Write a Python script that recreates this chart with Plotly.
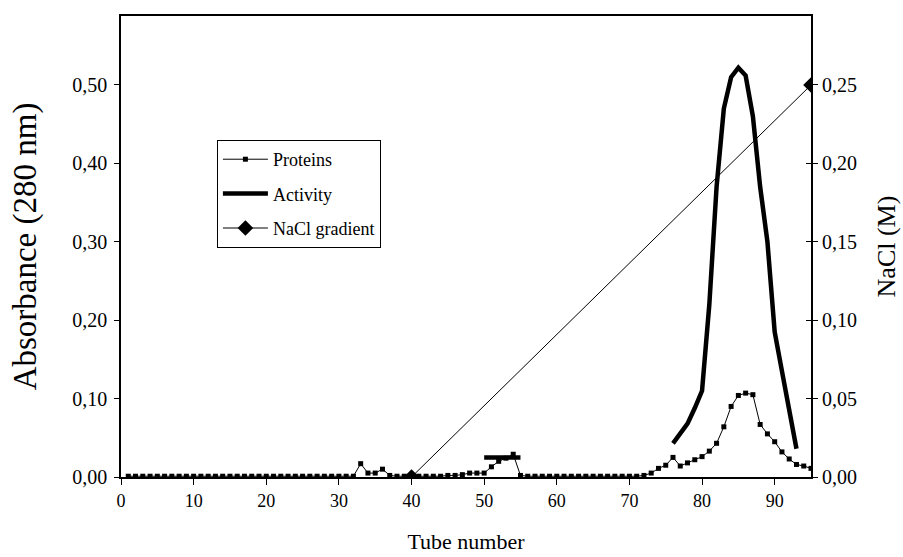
import plotly.graph_objects as go

# ---- data ----
tubes = list(range(1, 96))
proteins = [
    0.001, 0.001, 0.001, 0.001, 0.001, 0.001, 0.001, 0.001, 0.001, 0.001,
    0.001, 0.001, 0.001, 0.001, 0.001, 0.001, 0.001, 0.001, 0.001, 0.001,
    0.001, 0.001, 0.001, 0.001, 0.001, 0.001, 0.001, 0.001, 0.001, 0.001,
    0.001, 0.001, 0.017, 0.005, 0.005, 0.010, 0.002, 0.001, 0.001, 0.001,
    0.001, 0.001, 0.001, 0.001, 0.002, 0.002, 0.003, 0.005, 0.005, 0.005,
    0.013, 0.020, 0.024, 0.029, 0.002, 0.001, 0.001, 0.001, 0.001, 0.001,
    0.001, 0.001, 0.001, 0.001, 0.001, 0.001, 0.001, 0.001, 0.001, 0.001,
    0.001, 0.002, 0.005, 0.011, 0.015, 0.025, 0.014, 0.018, 0.022, 0.026,
    0.033, 0.043, 0.064, 0.090, 0.104, 0.107, 0.105, 0.067, 0.055, 0.045,
    0.032, 0.023, 0.016, 0.014, 0.011,
]

activity_tubes = [50, 51, 52, 53, 54, 55, None,
                  76, 77, 78, 79, 80, 81, 82, 83, 84, 85, 86, 87, 88, 89, 90, 91, 92, 93]
activity = [0.025, 0.025, 0.025, 0.026, 0.026, 0.025, None,
            0.043, 0.055, 0.068, 0.088, 0.110, 0.22, 0.37, 0.47, 0.51, 0.522, 0.512,
            0.46, 0.37, 0.30, 0.185, 0.135, 0.085, 0.036]

nacl_tubes = [40, 95]
nacl = [0.0, 0.25]

x_ticks = [0, 10, 20, 30, 40, 50, 60, 70, 80, 90]
y_ticks = [0.0, 0.1, 0.2, 0.3, 0.4, 0.5]
y2_ticks = [0.0, 0.05, 0.10, 0.15, 0.20, 0.25]

FONT = "Liberation Serif"

fig = go.Figure()
fig.add_trace(go.Scatter(
    x=tubes, y=proteins, name="Proteins", mode="lines+markers",
    line=dict(color="black", width=1),
    marker=dict(symbol="square", size=5, color="black"),
    legendgroup="a",
))
fig.add_trace(go.Scatter(
    x=activity_tubes, y=activity, name="Activity", mode="lines",
    line=dict(color="black", width=4.5), connectgaps=False,
    legendgroup="b",
))
fig.add_trace(go.Scatter(
    x=nacl_tubes, y=nacl, name="NaCl gradient", mode="lines+markers",
    line=dict(color="black", width=1),
    marker=dict(symbol="diamond", size=12, color="black"),
    yaxis="y2", legendgroup="c",
))
# invisible trace to carry the inner-tick overlay axis
fig.add_trace(go.Scatter(x=[None], y=[None], yaxis="y3", showlegend=False, hoverinfo="skip"))

fig.update_layout(
    width=903, height=557,
    margin=dict(l=121, r=92, t=16, b=80, autoexpand=False),
    paper_bgcolor="white", plot_bgcolor="white",
    separators=", ",
    font=dict(family=FONT, size=18, color="black"),
    showlegend=True,
    legend=dict(
        x=0.139, y=0.731, xanchor="left", yanchor="top",
        bgcolor="white", bordercolor="black", borderwidth=1,
        font=dict(family=FONT, size=18, color="black"),
        traceorder="grouped", tracegroupgap=8, itemwidth=45,
    ),
    xaxis=dict(
        range=[0, 95], tickvals=x_ticks, showgrid=False, zeroline=False,
        showline=True, linecolor="black", linewidth=2, mirror=True,
        ticks="outside", ticklen=6, tickcolor="black", automargin=False,
        tickfont=dict(family=FONT, size=18),
        title=dict(text="Tube number", font=dict(family=FONT, size=22), standoff=24),
    ),
    yaxis=dict(
        range=[0, 0.588], tickvals=y_ticks, tickformat=".2f", showgrid=False, zeroline=False,
        showline=True, linecolor="black", linewidth=1.5, automargin=False,
        ticks="outside", ticklen=5, tickcolor="black", ticklabelstandoff=3,
        tickfont=dict(family=FONT, size=20),
        title=dict(text="Absorbance (280 nm)", font=dict(family=FONT, size=33), standoff=26),
    ),
    yaxis2=dict(
        range=[0, 0.294], tickvals=y2_ticks, tickformat=".2f", overlaying="y", side="right",
        showgrid=False, zeroline=False, automargin=False,
        showline=True, linecolor="black", linewidth=2,
        ticks="outside", ticklen=5, tickcolor="black",
        tickfont=dict(family=FONT, size=20),
        title=dict(text="NaCl (M)", font=dict(family=FONT, size=26), standoff=21),
    ),
    yaxis3=dict(
        range=[0, 0.294], tickvals=y2_ticks, overlaying="y", side="right",
        showgrid=False, zeroline=False, showline=False, showticklabels=False,
        ticks="inside", ticklen=5, tickcolor="black", automargin=False,
    ),
)

fig.write_html("out.html")
